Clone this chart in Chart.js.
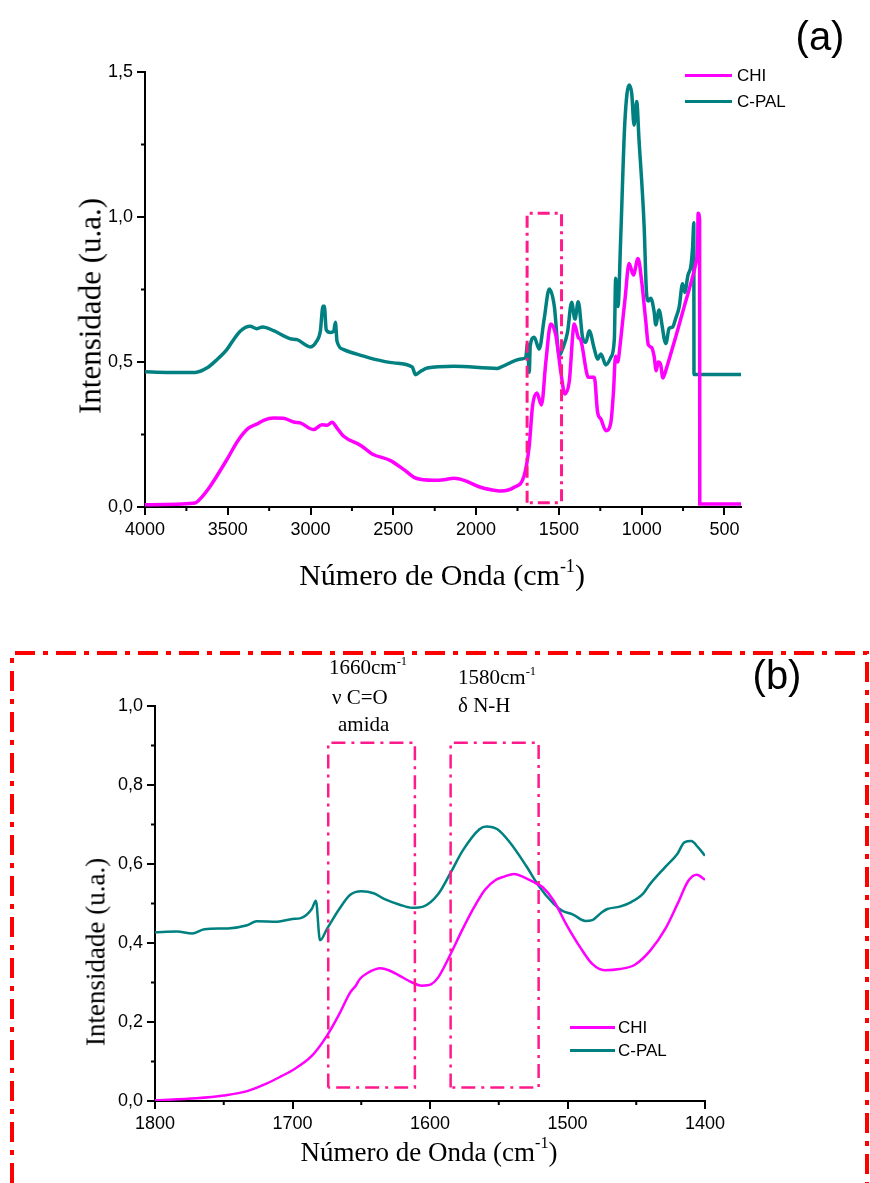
<!DOCTYPE html>
<html>
<head>
<meta charset="utf-8">
<script src="https://cdn.jsdelivr.net/npm/chart.js@4.4.1/dist/chart.umd.min.js"></script>
<style>
  html, body { margin: 0; padding: 0; background: #fff; }
  #wrap { position: relative; width: 870px; height: 1183px; background: #fff; overflow: hidden; }
  canvas { position: absolute; left: 0; }
  .txt { position: absolute; white-space: nowrap; color: #000; line-height: 1; }
  .serif { font-family: "Liberation Serif", "Times New Roman", serif; }
  .sans { font-family: "Liberation Sans", Arial, sans-serif; }
  .center { transform: translate(-50%, -50%); }
  .rot { transform: translate(-50%, -50%) rotate(-90deg); }
  sup { font-size: 0.6em; line-height: 0; vertical-align: 0.75em; }
  .key { position: absolute; height: 3px; }
</style>
</head>
<body>
<div id="wrap">
  <canvas id="chartA" width="870" height="620" style="top:0"></canvas>
  <canvas id="chartB" width="870" height="543" style="top:640px"></canvas>

  <!-- panel (a) labels -->
  <div class="txt sans center" style="left:820px; top:36px; font-size:40px;">(a)</div>
  <div class="txt serif rot" style="left:90px; top:306px; font-size:31px;">Intensidade (u.a.)</div>
  <div class="txt serif center" style="left:442px; top:575px; font-size:30px;">Número de Onda (cm<sup>-1</sup>)</div>
  <div class="key" style="left:685px; top:74px; width:47px; background:#ff00ff;"></div>
  <div class="txt sans" style="left:737px; top:67px; font-size:17px;">CHI</div>
  <div class="key" style="left:685px; top:100px; width:47px; background:#008080;"></div>
  <div class="txt sans" style="left:737px; top:93px; font-size:17px;">C-PAL</div>

  <!-- panel (b) labels -->
  <div class="txt sans center" style="left:777px; top:675px; font-size:40px;">(b)</div>
  <div class="txt serif rot" style="left:96px; top:952px; font-size:27px;">Intensidade (u.a.)</div>
  <div class="txt serif center" style="left:429px; top:1152px; font-size:27px;">Número de Onda (cm<sup>-1</sup>)</div>
  <div class="txt serif" style="left:329px; top:657px; font-size:21px;">1660cm<sup>-1</sup></div>
  <div class="txt serif" style="left:332px; top:687px; font-size:21px;">ν C=O</div>
  <div class="txt serif" style="left:338px; top:714px; font-size:21px;">amida</div>
  <div class="txt serif" style="left:458px; top:667px; font-size:21px;">1580cm<sup>-1</sup></div>
  <div class="txt serif" style="left:458px; top:695px; font-size:21px;">δ N-H</div>
  <div class="key" style="left:570px; top:1026px; width:45px; height:2.5px; background:#ff00ff;"></div>
  <div class="txt sans" style="left:618px; top:1019px; font-size:17px;">CHI</div>
  <div class="key" style="left:570px; top:1049px; width:45px; height:2.5px; background:#008080;"></div>
  <div class="txt sans" style="left:618px; top:1042px; font-size:17px;">C-PAL</div>
</div>

<script>
// ---------------- Colours ----------------
const magenta = "#ff00ff";
const teal = "#008080";
const pink = "#ff1a8c";

// ---------------- Panel (a): full spectrum ----------------
const chiAx = [4000, 3697, 3667, 3607, 3506, 3435, 3375, 3324, 3284, 3223, 3163, 3102, 3062, 2981, 2931, 2900, 2870, 2840, 2800, 2699, 2628, 2517, 2436, 2366, 2255, 2194, 2134, 2073, 1973, 1872, 1851, 1770, 1710, 1679, 1659, 1633, 1605, 1579, 1549, 1518, 1488, 1464, 1438, 1407, 1383, 1367, 1331, 1323, 1286, 1266, 1246, 1216, 1186, 1170, 1158, 1145, 1130, 1115, 1100, 1076, 1050, 1022, 1001, 975, 960, 940, 925, 912, 900, 885, 872, 860, 844, 794, 743, 703, 673, 662, 659, 650, 649, 400];
const chiAy = [0.008, 0.014, 0.028, 0.071, 0.163, 0.232, 0.272, 0.286, 0.299, 0.307, 0.306, 0.293, 0.290, 0.267, 0.284, 0.282, 0.292, 0.272, 0.244, 0.213, 0.183, 0.160, 0.129, 0.100, 0.092, 0.094, 0.099, 0.092, 0.068, 0.056, 0.055, 0.068, 0.108, 0.211, 0.349, 0.393, 0.352, 0.499, 0.631, 0.591, 0.464, 0.390, 0.430, 0.631, 0.585, 0.574, 0.459, 0.447, 0.447, 0.326, 0.303, 0.263, 0.292, 0.40, 0.52, 0.50, 0.56, 0.64, 0.72, 0.840, 0.800, 0.857, 0.783, 0.640, 0.560, 0.550, 0.520, 0.470, 0.500, 0.490, 0.445, 0.460, 0.490, 0.587, 0.691, 0.771, 0.840, 0.900, 1.013, 0.990, 0.010, 0.010];

const cpalAx = [4000, 3869, 3697, 3627, 3566, 3506, 3465, 3425, 3365, 3324, 3290, 3223, 3122, 3082, 3001, 2964, 2941, 2925, 2917, 2905, 2880, 2860, 2850, 2840, 2800, 2678, 2618, 2497, 2386, 2366, 2335, 2295, 2134, 1872, 1851, 1730, 1700, 1690, 1679, 1673, 1649, 1619, 1589, 1558, 1528, 1498, 1478, 1448, 1423, 1403, 1383, 1357, 1337, 1317, 1286, 1266, 1246, 1216, 1186, 1165, 1157, 1143, 1127, 1102, 1076, 1060, 1046, 1030, 1016, 985, 972, 960, 945, 925, 915, 895, 875, 864, 854, 834, 814, 794, 773, 753, 740, 720, 703, 692, 685, 684, 400];
const cpalAy = [0.466, 0.464, 0.464, 0.479, 0.508, 0.543, 0.577, 0.606, 0.623, 0.615, 0.621, 0.608, 0.580, 0.577, 0.552, 0.571, 0.606, 0.692, 0.692, 0.611, 0.602, 0.606, 0.637, 0.571, 0.543, 0.520, 0.510, 0.497, 0.483, 0.456, 0.468, 0.479, 0.485, 0.478, 0.482, 0.510, 0.516, 0.562, 0.464, 0.556, 0.585, 0.545, 0.648, 0.752, 0.694, 0.522, 0.545, 0.602, 0.706, 0.648, 0.708, 0.585, 0.568, 0.608, 0.545, 0.510, 0.528, 0.490, 0.516, 0.579, 0.789, 0.691, 0.921, 1.323, 1.455, 1.426, 1.317, 1.398, 1.266, 0.967, 0.750, 0.710, 0.720, 0.674, 0.628, 0.679, 0.620, 0.580, 0.564, 0.616, 0.620, 0.651, 0.691, 0.770, 0.740, 0.800, 0.830, 0.900, 0.980, 0.457, 0.457];

// highlighted amide region: [x from, x to, y from, y to]
const boxA = [1692, 1484, 0.015, 1.013];

const xTicksA = [4000, 3500, 3000, 2500, 2000, 1500, 1000, 500];
const yTicksA = [0, 0.5, 1.0, 1.5];

// ---------------- Panel (b): 1800-1400 detail ----------------
const chiBx = [1800, 1770, 1750, 1733, 1719, 1708, 1700, 1686, 1675, 1666, 1658, 1654, 1651, 1645, 1636, 1630, 1622, 1613, 1606, 1599, 1594, 1585, 1577, 1568, 1560, 1552, 1546, 1539, 1532, 1524, 1518, 1510, 1501, 1490, 1482, 1473, 1462, 1451, 1440, 1429, 1420, 1412, 1406, 1400];
const chiBy = [0.002, 0.007, 0.014, 0.025, 0.044, 0.063, 0.078, 0.114, 0.165, 0.220, 0.275, 0.292, 0.309, 0.325, 0.336, 0.331, 0.317, 0.300, 0.292, 0.296, 0.313, 0.372, 0.430, 0.490, 0.535, 0.560, 0.568, 0.575, 0.567, 0.553, 0.541, 0.507, 0.448, 0.385, 0.347, 0.331, 0.334, 0.345, 0.380, 0.435, 0.499, 0.558, 0.573, 0.560];

const cpalBx = [1800, 1784, 1773, 1764, 1747, 1733, 1726, 1711, 1700, 1694, 1686, 1683, 1680, 1675, 1666, 1658, 1650, 1641, 1633, 1622, 1613, 1605, 1594, 1585, 1576, 1564, 1559, 1551, 1542, 1530, 1521, 1510, 1504, 1496, 1487, 1482, 1475, 1471, 1462, 1454, 1445, 1440, 1429, 1420, 1415, 1410, 1405, 1400];
const cpalBy = [0.427, 0.429, 0.424, 0.435, 0.437, 0.445, 0.455, 0.454, 0.461, 0.463, 0.486, 0.507, 0.407, 0.435, 0.486, 0.522, 0.531, 0.526, 0.511, 0.497, 0.489, 0.492, 0.524, 0.578, 0.635, 0.688, 0.695, 0.688, 0.655, 0.595, 0.545, 0.499, 0.482, 0.472, 0.456, 0.458, 0.478, 0.486, 0.492, 0.503, 0.525, 0.549, 0.592, 0.626, 0.655, 0.658, 0.642, 0.621];

// band boxes: C=O amide (1660) and N-H bend (1580)
const boxB1 = [1674, 1611, 0.034, 0.907];
const boxB2 = [1585, 1521, 0.034, 0.907];

const xTicksB = [1800, 1700, 1600, 1500, 1400];
const yTicksB = [0, 0.2, 0.4, 0.6, 0.8, 1.0];

// ---------------- Helpers ----------------
function series(xs, ys, color, width) {
  return {
    data: xs.map((x, i) => ({ x: x, y: ys[i] })),
    showLine: true,
    borderColor: color,
    borderWidth: width,
    pointRadius: 0,
    fill: false,
    cubicInterpolationMode: "monotone"
  };
}

function boxSeries(b, color, width, dash) {
  const [x0, x1, y0, y1] = b;
  return {
    data: [{ x: x0, y: y0 }, { x: x0, y: y1 }, { x: x1, y: y1 }, { x: x1, y: y0 }, { x: x0, y: y0 }],
    showLine: true,
    borderColor: color,
    borderWidth: width,
    borderDash: dash,
    pointRadius: 0,
    fill: false,
    tension: 0
  };
}

function midpoints(arr) {
  const out = [];
  for (let i = 0; i < arr.length - 1; i++) out.push((arr[i] + arr[i + 1]) / 2);
  return out;
}

const comma = v => v.toFixed(1).replace(".", ",");
const plain = v => String(v);

// short outward ticks between the labelled ones
const minorTicks = {
  id: "minorTicks",
  afterDraw(chart, args, opts) {
    const { ctx, scales: { x, y } } = chart;
    ctx.save();
    ctx.strokeStyle = "#000";
    ctx.lineWidth = opts.width;
    ctx.beginPath();
    opts.x.forEach(v => {
      const px = x.getPixelForValue(v);
      ctx.moveTo(px, x.top);
      ctx.lineTo(px, x.top + opts.len);
    });
    opts.y.forEach(v => {
      const py = y.getPixelForValue(v);
      ctx.moveTo(y.right, py);
      ctx.lineTo(y.right - opts.len, py);
    });
    ctx.stroke();
    ctx.restore();
  }
};

// red dash-dot frame around panel (b), open at the bottom
const panelFrame = {
  id: "panelFrame",
  afterDraw(chart, args, opts) {
    if (!opts.show) return;
    const ctx = chart.ctx;
    ctx.save();
    ctx.strokeStyle = "#ff0000";
    ctx.lineWidth = 4;
    ctx.setLineDash([20, 8, 5, 8]);
    ctx.beginPath();
    ctx.moveTo(12, chart.height);
    ctx.lineTo(12, 13);
    ctx.lineTo(867, 13);
    ctx.lineTo(867, chart.height);
    ctx.stroke();
    ctx.restore();
  }
};

function axisOptions(ticks, fmt, extra) {
  return Object.assign({
    type: "linear",
    afterBuildTicks: s => { s.ticks = ticks.map(v => ({ value: v })); },
    grid: { drawOnChartArea: false, drawTicks: true, tickLength: 8, color: "#000", lineWidth: 2 },
    border: { display: true, color: "#000", width: 2 },
    ticks: { color: "#000", font: { family: "Liberation Sans", size: 18 }, padding: 4, autoSkip: false, maxRotation: 0, callback: fmt }
  }, extra);
}

// ---------------- Chart (a) ----------------
new Chart(document.getElementById("chartA"), {
  type: "scatter",
  data: {
    datasets: [
      boxSeries(boxA, pink, 3, [12, 5, 3, 5]),
      series(chiAx, chiAy, magenta, 3.5),
      series(cpalAx, cpalAy, teal, 3.5)
    ]
  },
  options: {
    responsive: false,
    animation: false,
    layout: { padding: { left: 0, right: 129, top: 72, bottom: 0 } },
    plugins: {
      legend: { display: false },
      tooltip: { enabled: false },
      minorTicks: { x: midpoints(xTicksA), y: midpoints(yTicksA), len: 4, width: 2 },
      panelFrame: { show: false }
    },
    scales: {
      x: axisOptions(xTicksA, plain, {
        min: 400, max: 4000, reverse: true,
        afterFit: s => { s.height = 113; }
      }),
      y: axisOptions(yTicksA, comma, {
        min: 0, max: 1.5,
        afterFit: s => { s.width = 145; }
      })
    }
  },
  plugins: [minorTicks, panelFrame]
});

// ---------------- Chart (b) ----------------
new Chart(document.getElementById("chartB"), {
  type: "scatter",
  data: {
    datasets: [
      boxSeries(boxB1, pink, 2.5, [14, 6, 3, 6]),
      boxSeries(boxB2, pink, 2.5, [14, 6, 3, 6]),
      series(chiBx, chiBy, magenta, 2.5),
      series(cpalBx, cpalBy, teal, 2.5)
    ]
  },
  options: {
    responsive: false,
    animation: false,
    layout: { padding: { left: 0, right: 165, top: 66, bottom: 0 } },
    plugins: {
      legend: { display: false },
      tooltip: { enabled: false },
      minorTicks: { x: midpoints(xTicksB), y: midpoints(yTicksB), len: 4, width: 2 },
      panelFrame: { show: true }
    },
    scales: {
      x: axisOptions(xTicksB, plain, {
        min: 1400, max: 1800, reverse: true,
        afterFit: s => { s.height = 82; }
      }),
      y: axisOptions(yTicksB, comma, {
        min: 0, max: 1.0,
        afterFit: s => { s.width = 155; }
      })
    }
  },
  plugins: [minorTicks, panelFrame]
});
</script>
</body>
</html>
